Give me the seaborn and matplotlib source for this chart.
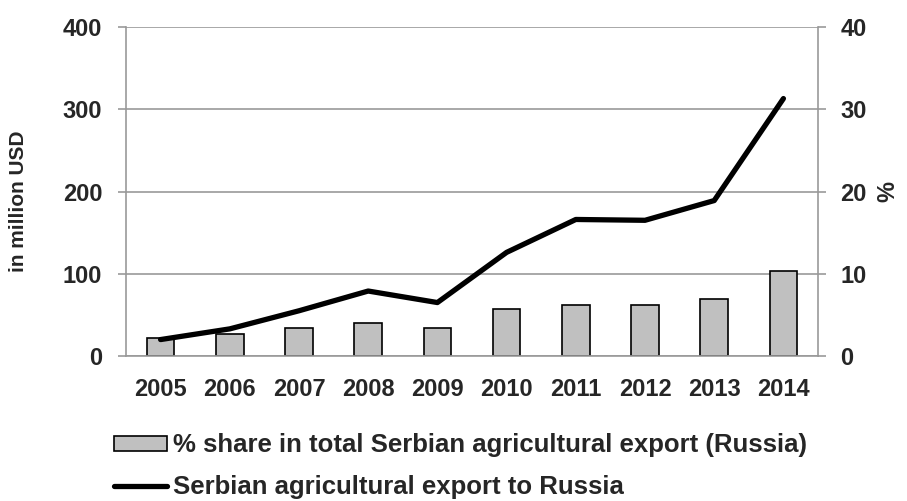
import matplotlib
matplotlib.use("Agg")
import matplotlib.pyplot as plt
import seaborn as sns
import numpy as np
import pandas as pd
from matplotlib.patches import Patch
from matplotlib.lines import Line2D

years = ["2005", "2006", "2007", "2008", "2009", "2010", "2011", "2012", "2013", "2014"]
share_pct = [2.2, 2.7, 3.4, 4.0, 3.4, 5.7, 6.2, 6.2, 6.9, 10.3]
export_musd = [20, 33, 55, 79, 65, 126, 166, 165, 189, 313]
left_ticks = [0, 100, 200, 300, 400]
right_ticks = [0, 10, 20, 30, 40]
bar_label = "% share in total Serbian agricultural export (Russia)"
line_label = "Serbian agricultural export to Russia"

sns.set_theme(style="white")
plt.rcParams['font.family'] = ['Liberation Sans', 'DejaVu Sans']
plt.rcParams['font.weight'] = 'bold'

GRID = "#999999"
fig = plt.figure(figsize=(9.07, 5.01), dpi=100)
ax = fig.add_axes([0.1389, 0.2894, 0.763, 0.6567])
ax2 = ax.twinx()

df = pd.DataFrame({"year": years, "share": share_pct, "export": export_musd,
                   "pos": np.arange(len(years))})

# bars on right axis (behind)
sns.barplot(data=df, x="year", y="share", ax=ax2, color="#c0c0c0",
            edgecolor="black", linewidth=1.2, width=0.4, saturation=1)
ax2.set_ylim(0, 40)
ax2.set_yticks(right_ticks)
ax2.yaxis.grid(True, color=GRID, linewidth=1.2)
ax2.set_axisbelow(True)

# line on left axis (front)
ax.set_zorder(ax2.get_zorder() + 1)
ax.patch.set_visible(False)
sns.lineplot(data=df, x="pos", y="export", ax=ax, color="black", linewidth=3.8)
ax.set_ylim(0, 400)
ax.set_yticks(left_ticks)
ax.set_xlim(-0.5, len(years) - 0.5)
ax.set_xticks(np.arange(len(years)))
ax.set_xticklabels(years)
ax.set_xticks(np.arange(len(years) + 1) - 0.5, minor=True)
ax.tick_params(axis="x", which="major", length=0, pad=16, labelsize=17)
ax.tick_params(axis="x", which="minor", length=6, color=GRID, width=1.2, direction="out")
ax.tick_params(axis="y", length=6, color=GRID, width=1.2, direction="out", labelsize=17, pad=11)
ax2.tick_params(axis="y", length=6, color=GRID, width=1.2, direction="out", labelsize=17, pad=10)
ax2.set_xlabel("")
ax.set_xlabel("")
ax.set_ylabel("in million USD", fontsize=15, fontweight="bold")
ax.yaxis.set_label_coords(-0.141, 0.47)
ax2.set_ylabel("%", fontsize=17, fontweight="bold", rotation=90, labelpad=7)

for a in (ax, ax2):
    for s in a.spines.values():
        s.set_visible(False)
for a, side in ((ax, "left"), (ax, "bottom"), (ax2, "right")):
    a.spines[side].set_visible(True)
    a.spines[side].set_color(GRID)
    a.spines[side].set_linewidth(1.2)

handles = [Patch(facecolor="#c0c0c0", edgecolor="black", linewidth=1.2, label=bar_label),
           Line2D([0], [0], color="black", linewidth=3.8, label=line_label)]
fig.legend(handles=handles, loc="upper left", bbox_to_anchor=(0.1257, 0.135),
           ncol=1, frameon=False, prop={"size": 18.5, "weight": "bold"},
           handlelength=2.05, handleheight=0.55, handletextpad=0.24, labelspacing=0.7,
           borderaxespad=0, borderpad=0)

fig.savefig("out.png", dpi=100)
